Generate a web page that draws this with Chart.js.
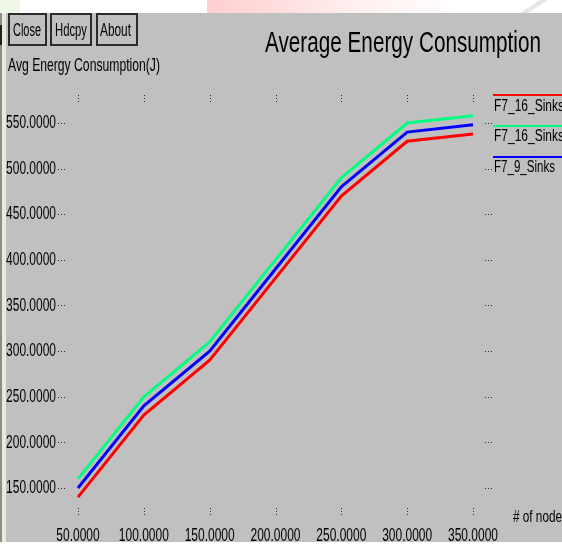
<!DOCTYPE html>
<html>
<head>
<meta charset="utf-8">
<script src="https://cdn.jsdelivr.net/npm/chart.js@4.4.0/dist/chart.umd.min.js"></script>
<style>
html,body{margin:0;padding:0;width:562px;height:547px;overflow:hidden;background:#fff;}
#wrap{position:relative;width:562px;height:547px;overflow:hidden;}
canvas{position:absolute;left:0;top:0;}
.t{position:absolute;font-family:"Liberation Sans",Arial,Helvetica,sans-serif;color:#000;white-space:nowrap;line-height:1;transform-origin:0 50%;}
.btn{position:absolute;border:2px solid #2b2b2b;box-sizing:border-box;}
.lg{position:absolute;height:2px;left:493px;width:69px;}
</style>
</head>
<body>
<div id="wrap">
<canvas id="c" width="562" height="547"></canvas>
<div class="btn" style="left:8px;top:13px;width:39px;height:33px;"></div>
<div class="btn" style="left:50px;top:13px;width:42px;height:33px;"></div>
<div class="btn" style="left:96px;top:13px;width:42px;height:33px;"></div>
<div class="t" data-x="13" data-cy="30" data-f="18" data-w="28">Close</div>
<div class="t" data-x="55" data-cy="30" data-f="18" data-w="32">Hdcpy</div>
<div class="t" data-x="100" data-cy="30" data-f="18" data-w="31">About</div>
<div class="t" data-x="8" data-cy="64" data-f="19" data-w="152">Avg Energy Consumption(J)</div>
<div class="t" data-x="265" data-cy="42.5" data-f="29" data-w="276">Average Energy Consumption</div>
<div class="t" data-x="513" data-cy="517" data-f="16" data-w="49"># of node</div>
<div id="legend"></div>
</div>
<script>
// ---- data ----
const nodes = [50, 100, 150, 200, 250, 300, 350];
const f7_16_sinks_red = [140, 230, 290, 380, 470, 530, 538];
const f7_16_sinks_green = [160, 250, 310, 400, 490, 550, 558];
const f7_9_sinks_blue = [150, 240, 300, 390, 480, 540, 548];
const seriesNames = ["F7_16_Sinks", "F7_16_Sinks", "F7_9_Sinks"];
const xTickValues = [50, 100, 150, 200, 250, 300, 350];
const yTickValues = [150, 200, 250, 300, 350, 400, 450, 500, 550];

const colors = ["#ff0000", "#00ff80", "#0000ff"];
const seriesData = [f7_16_sinks_red, f7_16_sinks_green, f7_9_sinks_blue];

// condensed text rendering for the axis labels
const cv = document.getElementById('c');
const ctx0 = cv.getContext('2d');
const origFill = ctx0.fillText.bind(ctx0);
ctx0.fillText = function(t, x, y){
  this.save(); this.translate(x, y); this.scale(0.63, 1); origFill(t, 0, 0); this.restore();
};

const background = {
  id: 'background',
  beforeDraw(chart){
    const c = chart.ctx;
    c.save();
    c.fillStyle = '#ffffff'; c.fillRect(0, 0, 562, 547);
    const g = c.createLinearGradient(200, 0, 450, 0);
    g.addColorStop(0, 'rgba(255,200,200,0.9)');
    g.addColorStop(0.35, 'rgba(255,215,215,0.8)');
    g.addColorStop(1, 'rgba(255,245,245,0.3)');
    c.fillStyle = g; c.fillRect(207, 0, 240, 13);
    c.fillStyle = '#e6e6e6';
    c.beginPath(); c.moveTo(520,13); c.lineTo(540,0); c.lineTo(548,0); c.lineTo(528,13); c.fill();
    c.fillStyle = '#c0c0c0'; c.fillRect(6, 13, 556, 529);
    c.fillStyle = '#8c8c8c'; c.fillRect(0, 13, 2, 529);
    c.fillStyle = '#202020'; c.fillRect(0, 25, 3, 20);
    c.fillStyle = '#ece9dc'; c.fillRect(2, 13, 4, 529);
    c.fillStyle = '#eef6e6'; c.fillRect(0, 0, 20, 13);
    c.restore();
  }
};

const tickMarks = {
  id: 'tickMarks',
  beforeDatasetsDraw(chart){
    const c = chart.ctx, a = chart.chartArea, x = chart.scales.x, y = chart.scales.y;
    c.save();
    c.strokeStyle = '#2a2a2a'; c.lineWidth = 1; c.setLineDash([1, 2]);
    x.ticks.forEach(t => {
      const px = Math.round(x.getPixelForValue(t.value)) + 0.5;
      c.beginPath();
      c.moveTo(px, a.top); c.lineTo(px, a.top + 8);
      c.moveTo(px, a.bottom); c.lineTo(px, a.bottom - 8);
      c.stroke();
    });
    y.ticks.forEach(t => {
      const py = Math.round(y.getPixelForValue(t.value)) + 0.5;
      c.beginPath();
      c.moveTo(a.left, py); c.lineTo(a.left + 7, py);
      c.moveTo(a.right, py); c.lineTo(a.right - 7, py);
      c.stroke();
    });
    c.restore();
  }
};

const tickFont = {family: '"Liberation Sans", Arial, sans-serif', size: 19};

new Chart(cv, {
  type: 'line',
  data: {
    datasets: seriesData.map((arr, i) => ({
      label: seriesNames[i],
      data: nodes.map((n, j) => ({x: n, y: arr[j]})),
      borderColor: colors[i],
      backgroundColor: colors[i],
      borderWidth: 3,
      pointRadius: 0,
      tension: 0,
      fill: false
    }))
  },
  options: {
    responsive: false,
    animation: false,
    events: [],
    layout: {padding: {top: 95, right: 70, bottom: 0, left: 0}},
    plugins: {legend: {display: false}, title: {display: false}, tooltip: {enabled: false}},
    scales: {
      x: {
        type: 'linear', min: 34.81, max: 364.43,
        afterBuildTicks: s => { s.ticks = xTickValues.map(v => ({value: v})); },
        afterFit: s => { s.height = 32; },
        grid: {display: false, drawTicks: false}, border: {display: false},
        ticks: {autoSkip: false, maxRotation: 0, minRotation: 0, padding: 9, color: '#000', font: tickFont,
                callback: v => Number(v).toFixed(4)}
      },
      y: {
        type: 'linear', min: 120.41, max: 580.68,
        afterBuildTicks: s => { s.ticks = yTickValues.map(v => ({value: v})); },
        afterFit: s => { s.width = 58; },
        grid: {display: false, drawTicks: false}, border: {display: false},
        ticks: {autoSkip: false, padding: 2, color: '#000', font: tickFont,
                callback: v => Number(v).toFixed(4)}
      }
    }
  },
  plugins: [background, tickMarks]
});

// legend
const legendY = [[95, 106], [126, 136], [157, 167]];
const legendW = [70, 70, 61];
const lg = document.getElementById('legend');
seriesNames.forEach((name, i) => {
  const line = document.createElement('div');
  line.className = 'lg';
  line.style.top = (legendY[i][0] - 1) + 'px';
  line.style.background = colors[i];
  lg.appendChild(line);
  const t = document.createElement('div');
  t.className = 't';
  t.textContent = name;
  t.dataset.x = 494; t.dataset.cy = legendY[i][1]; t.dataset.f = 16; t.dataset.w = legendW[i];
  lg.appendChild(t);
});

document.querySelectorAll('.t').forEach(el => {
  const f = +el.dataset.f;
  el.style.fontSize = f + 'px';
  el.style.left = el.dataset.x + 'px';
  el.style.top = (+el.dataset.cy - 0.49 * f) + 'px';
  const w = el.getBoundingClientRect().width;
  el.style.transform = 'scaleX(' + (+el.dataset.w / w) + ')';
});
</script>
</body>
</html>
